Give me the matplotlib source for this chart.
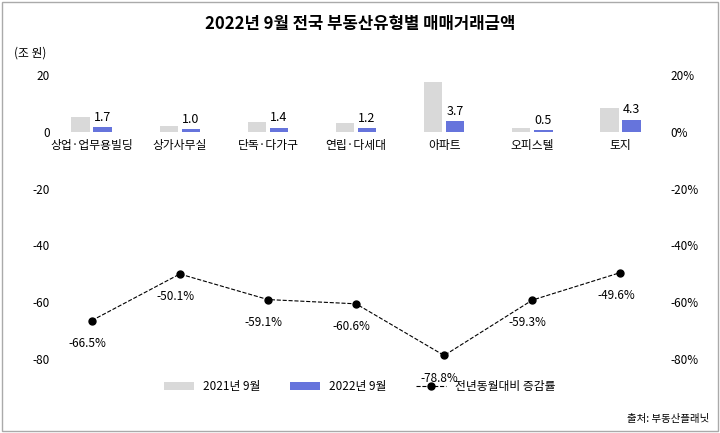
import matplotlib
matplotlib.use('Agg')
import numpy as np
import matplotlib.pyplot as plt
from matplotlib.patches import Rectangle

plt.rcParams['font.family'] = ['Noto Sans CJK JP', 'Noto Sans CJK KR', 'DejaVu Sans']
plt.rcParams['axes.unicode_minus'] = False

categories = ['상업·업무용빌딩', '상가사무실', '단독·다가구', '연립·다세대', '아파트', '오피스텔', '토지']
val_2021 = [5.1, 2.0, 3.4, 3.0, 17.5, 1.2, 8.5]
val_2022 = [1.7, 1.0, 1.4, 1.2, 3.7, 0.5, 4.3]
yoy = [-66.5, -50.1, -59.1, -60.6, -78.8, -59.3, -49.6]

fig = plt.figure(figsize=(7.2, 4.33), dpi=100)
fig.patches.append(Rectangle((0.003, 0.005), 0.994, 0.99, transform=fig.transFigure,
                             fill=False, edgecolor='#aaaaaa', lw=1))
ax = fig.add_axes([0.076, 0.158, 0.848, 0.682])
ax2 = ax.twinx()

x = np.arange(len(categories))
w = 0.21
ax.bar(x - w/2 - 0.02, val_2021, w, color='#d9d9d9', label='2021년 9월')
ax.bar(x + w/2 + 0.02, val_2022, w, color='#6674dc', label='2022년 9월')
for xi, v in zip(x, val_2022):
    ax.text(xi + w/2 + 0.02, v + 1.2, f'{v:.1f}', ha='center', va='bottom', fontsize=9)
for xi, c in zip(x, categories):
    ax.text(xi, -2.5, c, ha='center', va='top', fontsize=8.5)

ax2.plot(x, yoy, 'k--o', lw=0.8, ms=5, label='전년동월대비 증감률')
for xi, v in zip(x, yoy):
    ax2.text(xi - 0.05, v - 8, f'{v}%', ha='center', va='center', fontsize=8.5)

for a in (ax, ax2):
    a.set_ylim(-82, 22)
    a.set_yticks([20, 0, -20, -40, -60, -80])
    a.tick_params(length=0, labelsize=8.5)
    for s in a.spines.values():
        s.set_visible(False)
ax2.set_yticklabels([f'{t}%' for t in [20, 0, -20, -40, -60, -80]])
ax.set_xticks([])
ax.set_xlim(-0.42, 6.51)

fig.text(0.5, 0.945, '2022년 9월 전국 부동산유형별 매매거래금액', ha='center', va='center',
         fontsize=12, fontweight='bold')
fig.text(0.02, 0.87, '(조 원)', fontsize=8.5)
fig.text(0.985, 0.025, '출처: 부동산플래닛', ha='right', fontsize=7.5)

h1, l1 = ax.get_legend_handles_labels()
h2, l2 = ax2.get_legend_handles_labels()
fig.legend(h1 + h2, l1 + l2, loc='center', bbox_to_anchor=(0.5, 0.107), ncol=3,
           frameon=False, fontsize=8.5, handlelength=2.5, columnspacing=2.5)

fig.savefig('out.png', dpi=100)
